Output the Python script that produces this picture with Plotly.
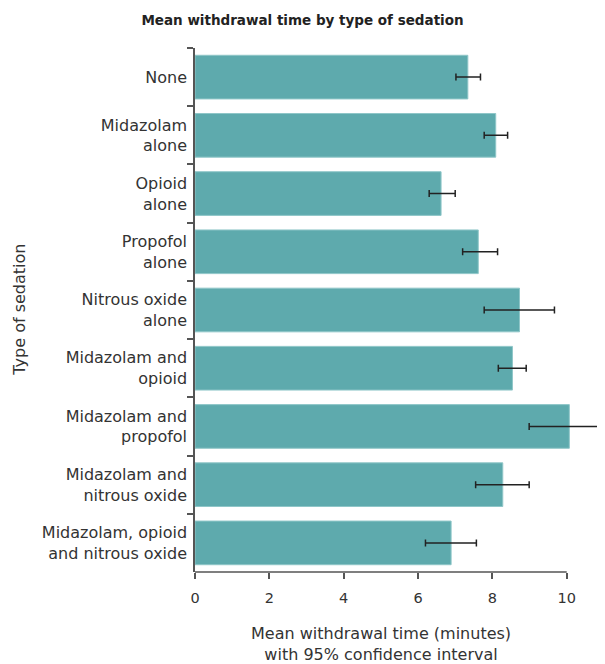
import plotly.graph_objects as go

categories = ["None", "Midazolam<br>alone", "Opioid<br>alone", "Propofol<br>alone",
              "Nitrous oxide<br>alone", "Midazolam and<br>opioid", "Midazolam and<br>propofol",
              "Midazolam and<br>nitrous oxide", "Midazolam, opioid<br>and nitrous oxide"]
means = [7.34, 8.09, 6.62, 7.62, 8.73, 8.54, 10.07, 8.28, 6.89]
ci_low = [7.02, 7.78, 6.30, 7.20, 7.78, 8.16, 8.99, 7.55, 6.20]
ci_high = [7.68, 8.41, 7.00, 8.14, 9.67, 8.91, 11.25, 8.99, 7.57]
x_ticks = [0, 2, 4, 6, 8, 10]

err_plus = [h - m for h, m in zip(ci_high, means)]
err_minus = [m - l for m, l in zip(means, ci_low)]

FONT = "DejaVu Sans"
fig = go.Figure()
fig.add_trace(go.Bar(
    x=means, y=categories, orientation="h",
    marker=dict(color="#5EAAAD", line=dict(color="#8FC6C8", width=1)),
    error_x=dict(type="data", symmetric=False, array=err_plus, arrayminus=err_minus,
                 color="#222222", thickness=1.5, width=3.5),
    hoverinfo="skip",
))

# page body has an 8px default margin, so the figure is 8px smaller
fig.update_layout(
    width=597, height=656,
    margin=dict(l=187, r=0, t=40, b=92, autoexpand=False),
    paper_bgcolor="white", plot_bgcolor="white",
    bargap=0.25,
    showlegend=False,
    font=dict(family=FONT, size=16, color="#333333"),
    title=dict(text="<b>Mean withdrawal time by type of sedation</b>", x=(302.5 - 8) / 597,
               xanchor="center", y=1 - 12 / 656, yanchor="middle",
               font=dict(size=13.5, color="#222222")),
)
fig.update_xaxes(range=[0, 11.03], tickvals=x_ticks, ticks="outside", ticklen=6,
                 tickcolor="#555555", tickwidth=1.5, showgrid=False, zeroline=False,
                 showline=False, automargin=False, ticklabelstandoff=7,
                 tickfont=dict(size=14.5, color="#333333"))
fig.update_yaxes(autorange="reversed", showline=True, linecolor="#555555", linewidth=1.5,
                 ticks="outside", tickson="boundaries", ticklen=6, tickcolor="#555555",
                 tickwidth=1.5, showgrid=False, automargin=False, ticklabelstandoff=3,
                 tickfont=dict(size=16, color="#333333"))
fig.add_shape(type="line", xref="x", yref="paper", x0=0, x1=x_ticks[-1], y0=0, y1=0,
              line=dict(color="#555555", width=1.5))
fig.add_annotation(text="Mean withdrawal time (minutes)<br>with 95% confidence interval",
                   xref="x", yref="paper", x=x_ticks[-1] / 2, y=-0.096, yanchor="top",
                   showarrow=False, font=dict(size=16, color="#333333"))
fig.add_annotation(text="Type of sedation", xref="paper", yref="paper", x=-0.43, y=0.5,
                   xanchor="center", yanchor="middle", textangle=-90, showarrow=False,
                   font=dict(size=16, color="#333333"))

fig.write_html("out.html")
